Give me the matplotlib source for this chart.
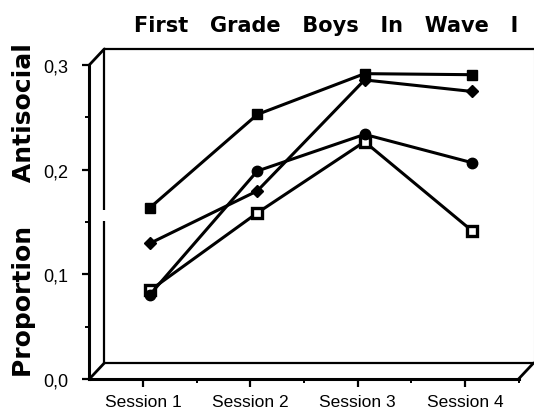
import matplotlib
matplotlib.use("Agg")
import matplotlib.pyplot as plt
from matplotlib.lines import Line2D

# ---- data ----
sessions = ["Session 1", "Session 2", "Session 3", "Session 4"]
yticks = [0.0, 0.1, 0.2, 0.3]
ytick_labels = ["0,0", "0,1", "0,2", "0,3"]
series_filled_square = [0.156, 0.245, 0.284, 0.283]
series_diamond = [0.122, 0.172, 0.278, 0.267]
series_circle = [0.073, 0.191, 0.226, 0.199]
series_open_square = [0.077, 0.151, 0.219, 0.134]

W, H = 534, 414
fig = plt.figure(figsize=(W / 100, H / 100), dpi=100)
fig.patch.set_facecolor("white")

# front plane in pixels (from top-left)
fx0, fx1 = 89.35, 518.55
fy0, fy1 = 380.0, 65.9  # v=0, v=0.3
mid = (7, 8)
back = (15, 16)


def pos(dx, dy):
    return [(fx0 + dx) / W, (H - (fy0 - dy)) / H, (fx1 - fx0) / W, (fy0 - fy1) / H]


xlim = (-0.5, 3.5)
ylim = (0.0, 0.3)

# back wall
axb = fig.add_axes(pos(*back))
axb.set_xlim(*xlim); axb.set_ylim(*ylim)
axb.patch.set_alpha(0)
for s in ["left", "right", "top", "bottom"]:
    axb.spines[s].set_visible(False)
axb.set_xticks([]); axb.set_yticks([])
axb.plot([-0.5, 3.5], [0.3, 0.3], color="black", lw=1.6, clip_on=False, solid_capstyle="butt")
axb.plot([-0.5, 3.5], [0, 0], color="black", lw=1.6, clip_on=False, solid_capstyle="butt")
axb.plot([-0.5, -0.5], [0, 0.136], color="black", lw=1.6, clip_on=False, solid_capstyle="butt")
axb.plot([-0.5, -0.5], [0.146, 0.3], color="black", lw=1.6, clip_on=False, solid_capstyle="butt")
axb.plot([3.5, 3.5], [0, 0.3], color="#c8c8c8", lw=0.8, clip_on=False)

# front axes with ticks and labels
axf = fig.add_axes(pos(0, 0))
axf.set_xlim(*xlim); axf.set_ylim(*ylim)
axf.patch.set_alpha(0)
axf.spines["top"].set_visible(False)
axf.spines["right"].set_visible(False)
for s in ["left", "bottom"]:
    axf.spines[s].set_linewidth(2.2)
    axf.spines[s].set_capstyle("projecting")
axf.set_xticks(range(len(sessions)))
axf.set_xticklabels(sessions, fontfamily="Liberation Sans", fontsize=12.5)
axf.set_xticks([0.5, 1.5, 2.5, 3.5], minor=True)
axf.set_yticks(yticks)
axf.set_yticklabels(ytick_labels, fontfamily="Liberation Sans", fontsize=13)
axf.set_yticks([0.05, 0.15, 0.25], minor=True)
axf.tick_params(axis="both", which="major", direction="out", length=5, width=1.6, color="black")
axf.tick_params(axis="both", which="minor", direction="out", length=3, width=1.4, color="black")
axf.tick_params(axis="x", which="major", pad=5, length=6)
axf.tick_params(axis="y", which="major", pad=10)

# diagonals connecting front and back
def fpix(x, y):
    return x, H - y

for (px, py) in [(fx0, fy1), (fx0, fy0), (fx1, fy0)]:
    x0, y0 = px, H - py
    x1, y1 = px + back[0], H - (py - back[1])
    fig.add_artist(Line2D([x0, x1], [y0, y1], color="black", lw=2.0,
                          transform=None, solid_capstyle="round"))

# data plane (mid depth)
ax = fig.add_axes(pos(*mid))
ax.set_xlim(*xlim); ax.set_ylim(*ylim)
ax.axis("off")
xs = list(range(len(sessions)))
lw = 2.2
ax.plot(xs, series_open_square, color="black", lw=lw, marker="s", ms=7,
        mfc="white", mec="black", mew=2.4, clip_on=False)
ax.plot(xs, series_circle, color="black", lw=lw, marker="o", ms=7.5,
        mfc="black", mec="black", clip_on=False)
ax.plot(xs, series_diamond, color="black", lw=lw, marker="D", ms=6.5,
        mfc="black", mec="black", clip_on=False)
ax.plot(xs, series_filled_square, color="black", lw=lw, marker="s", ms=7.5,
        mfc="black", mec="black", clip_on=False)

# title and y label
fig.text(326 / W, (H - 32) / H, "First   Grade   Boys   In   Wave   I",
         fontfamily="DejaVu Sans", fontweight="bold", fontsize=15,
         ha="center", va="baseline")
fig.text(31 / W, (H - 210) / H, "Proportion     Antisocial",
         fontfamily="DejaVu Sans", fontweight="bold", fontsize=18,
         rotation=90, rotation_mode="anchor", ha="center", va="baseline")

fig.savefig("out.png", dpi=100, facecolor="white")
